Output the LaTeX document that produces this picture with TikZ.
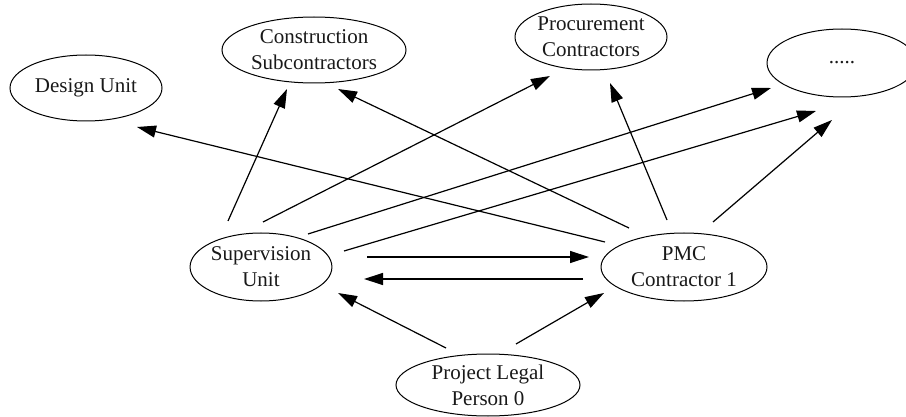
\documentclass[tikz,border=0pt]{standalone}
\usepackage{fontspec}
\setmainfont{Liberation Serif}
\usetikzlibrary{shapes.geometric,arrows.meta}
\begin{document}
\begin{tikzpicture}[x=1pt,y=-1pt,
  unit/.style={draw, ellipse, line width=1pt, inner sep=0pt, align=center,
    font=\fontsize{21}{26}\selectfont, text=black!90},
  link/.style={line width=1.2pt, -{Triangle[length=19pt,width=12pt]}}]
\useasboundingbox (0,0) rectangle (906,417);
\node[unit, minimum width=152pt, minimum height=66pt] (design) at (86,88) {Design Unit};
\node[unit, minimum width=184pt, minimum height=66pt] (cons) at (314,50) {Construction\\Subcontractors};
\node[unit, minimum width=152pt, minimum height=66pt] (proc) at (591,37) {Procurement\\Contractors};
\node[unit, minimum width=150pt, minimum height=68pt] (dots) at (842,63) {.....};
\node[unit, minimum width=138pt, minimum height=68pt] (sup) at (261,267) {Supervision\\Unit};
\node[unit, minimum width=166pt, minimum height=68pt] (pmc) at (684,267) {PMC\\Contractor 1};
\node[unit, minimum width=184pt, minimum height=62pt] (legal) at (488,385) {Project Legal\\Person 0};
% connectors
\draw[link] ([shift={(-79,-25)}]pmc.center) -- ([shift={(51,39)}]design.center);
\draw[link] ([shift={(-33,-46)}]sup.center) -- ([shift={(-27,39)}]cons.center);
\draw[link] ([shift={(-55,-39)}]pmc.center) -- ([shift={(24,39)}]cons.center);
\draw[link] ([shift={(2,-45)}]sup.center) -- ([shift={(-41,39)}]proc.center);
\draw[link] ([shift={(-17,-47)}]pmc.center) -- ([shift={(19,46)}]proc.center);
\draw[link] ([shift={(47,-33)}]sup.center) -- ([shift={(-71,25)}]dots.center);
\draw[link] ([shift={(83,-16)}]sup.center) -- ([shift={(-26,48)}]dots.center);
\draw[link] ([shift={(29,-45)}]pmc.center) -- ([shift={(-10,57)}]dots.center);
\draw[link] ([shift={(106,-10)}]sup.center) -- ([shift={(-95,-10)}]pmc.center);
\draw[link] ([shift={(-101,12)}]pmc.center) -- ([shift={(103,12)}]sup.center);
\draw[link] ([shift={(-42,-37)}]legal.center) -- ([shift={(77,26)}]sup.center);
\draw[link] ([shift={(28,-41)}]legal.center) -- ([shift={(-80,26)}]pmc.center);
\end{tikzpicture}
\end{document}
